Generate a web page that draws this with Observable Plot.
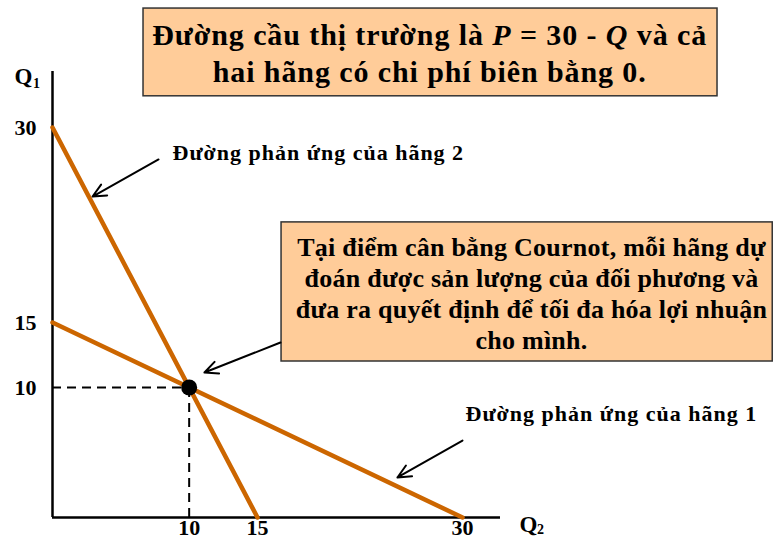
<!DOCTYPE html>
<html>
<head>
<meta charset="utf-8">
<script src="https://cdn.jsdelivr.net/npm/d3@7"></script>
<script src="https://cdn.jsdelivr.net/npm/@observablehq/plot@0.6"></script>
<style>
  html, body { margin: 0; padding: 0; background: #fff; }
  #chart svg { display: block; }
</style>
</head>
<body>
<div id="chart"></div>
<script>
// ---- data ----
const firm1Q2 = [0, 30];   // reaction curve of firm 1: Q1 = 15 - Q2/2
const firm1Q1 = [15, 0];
const firm2Q2 = [0, 15];   // reaction curve of firm 2: Q1 = 30 - 2*Q2
const firm2Q1 = [30, 0];
const eqQ2 = [10];
const eqQ1 = [10];
const xTicks = [10, 15, 30];
const yTicks = [10, 15, 30];
const titleLines = ["Đường cầu thị trường là P = 30 - Q và cả", "hai hãng có chi phí biên bằng 0."];
const noteText = "Tại điểm cân bằng Cournot, mỗi hãng dự\nđoán được sản lượng của đối phương và\nđưa ra quyết định để tối đa hóa lợi nhuận\ncho mình.";
const label1 = "Đường phản ứng của hãng 1";
const label2 = "Đường phản ứng của hãng 2";

const firm1 = firm1Q2.map((q2, i) => ({q2, q1: firm1Q1[i]}));
const firm2 = firm2Q2.map((q2, i) => ({q2, q1: firm2Q1[i]}));
const eq = eqQ2.map((q2, i) => ({q2, q1: eqQ1[i]}));

const FONT = "Liberation Serif";
const ORANGE = "#CC6600";
const BOXFILL = "#FFCC99";
const T = {fontFamily: FONT, fontWeight: "bold", fill: "#000"};
const yTop = 34.3, xRight = 32.78;

const chart = Plot.plot({
  width: 774,
  height: 539,
  x: {domain: [0, 30], range: [52, 462], axis: null},
  y: {domain: [0, 30], range: [517, 127], axis: null},
  marks: [
    // annotation boxes
    Plot.rect([{x1: 6.66, x2: 48.66, y1: 32.4, y2: 39.15}], {x1: "x1", x2: "x2", y1: "y1", y2: "y2", fill: BOXFILL, stroke: "#333", strokeWidth: 1.5}),
    Plot.rect([{x1: 16.76, x2: 52.7, y1: 12.0, y2: 22.7}], {x1: "x1", x2: "x2", y1: "y1", y2: "y2", fill: BOXFILL, stroke: "#333", strokeWidth: 1.5}),
    // axes
    Plot.ruleX([0], {y1: 0, y2: yTop, stroke: "#000", strokeWidth: 2.5}),
    Plot.ruleY([0], {x1: 0, x2: xRight, stroke: "#000", strokeWidth: 2.5}),
    // dashed guides
    Plot.ruleY(eq, {y: "q1", x1: 0, x2: "q2", stroke: "#000", strokeWidth: 2, strokeDasharray: "9,6"}),
    Plot.ruleX(eq, {x: "q2", y1: 0, y2: "q1", stroke: "#000", strokeWidth: 2, strokeDasharray: "9,6"}),
    // reaction curves
    Plot.line(firm1, {x: "q2", y: "q1", stroke: ORANGE, strokeWidth: 4.5}),
    Plot.line(firm2, {x: "q2", y: "q1", stroke: ORANGE, strokeWidth: 4.5}),
    // equilibrium
    Plot.dot(eq, {x: "q2", y: "q1", r: 8, fill: "#000"}),
    // arrows
    Plot.arrow([
      {x1: 7.76, y1: 27.54, x2: 2.93, y2: 24.69},
      {x1: 16.68, y1: 13.46, x2: 11.12, y2: 11.15},
      {x1: 30.0, y1: 5.92, x2: 25.24, y2: 3.08}
    ], {x1: "x1", y1: "y1", x2: "x2", y2: "y2", stroke: "#000", strokeWidth: 2, headLength: 11, headAngle: 50}),
    // tick labels
    Plot.text(xTicks, {x: d => d, y: 0, dy: 10, text: d => String(d), fontSize: 22, ...T}),
    Plot.text(yTicks, {x: 0, y: d => d, dx: -27, text: d => String(d), fontSize: 22, ...T}),
    // axis names
    Plot.text(["Q"], {x: 0, y: yTop, dx: -29, dy: 5, text: d => d, fontSize: 23, ...T}),
    Plot.text(["1"], {x: 0, y: yTop, dx: -16, dy: 12, text: d => d, fontSize: 14, ...T}),
    Plot.text(["Q"], {x: xRight, y: 0, dx: 28, dy: 7, text: d => d, fontSize: 23, ...T}),
    Plot.text(["2"], {x: xRight, y: 0, dx: 40, dy: 12, text: d => d, fontSize: 14, ...T}),
    // curve labels
    Plot.text([label2], {x: 8.78, y: 28.08, text: d => d, textAnchor: "start", fontSize: 22, ...T}),
    Plot.text([label1], {x: 30.22, y: 7.95, text: d => d, textAnchor: "start", fontSize: 22, ...T}),
    // title
    Plot.text([titleLines[0]], {x: 27.6, y: 37.05, text: d => d, fontSize: 30, ...T}),
    Plot.text([titleLines[1]], {x: 27.6, y: 34.23, text: d => d, fontSize: 30, ...T}),
    // note
    Plot.text([noteText], {x: 35.05, y: 17.31, text: d => d, fontSize: 26, lineHeight: 1.19, ...T})
  ]
});

document.getElementById("chart").appendChild(chart);

const svg = d3.select(chart);
svg.selectAll("text").each(function() {
  const t = d3.select(this);
  const s = t.text();
  if (s === label1 || s === label2) t.style("letter-spacing", "1px");
  if (s === titleLines[1]) t.style("letter-spacing", "0.9px");
  if (s.startsWith("Tại điểm")) t.style("letter-spacing", "0.25px");
  if (s === titleLines[0]) {
    // italicize P and Q in the title
    t.style("letter-spacing", "0.9px");
    t.text(null);
    const parts = [["Đường cầu thị trường là ", false], ["P", true], [" = 30 - ", false], ["Q", true], [" và cả", false]];
    for (const [str, it] of parts) {
      const sp = t.append("tspan").text(str);
      if (it) sp.attr("font-style", "italic");
    }
  }
});
</script>
</body>
</html>
